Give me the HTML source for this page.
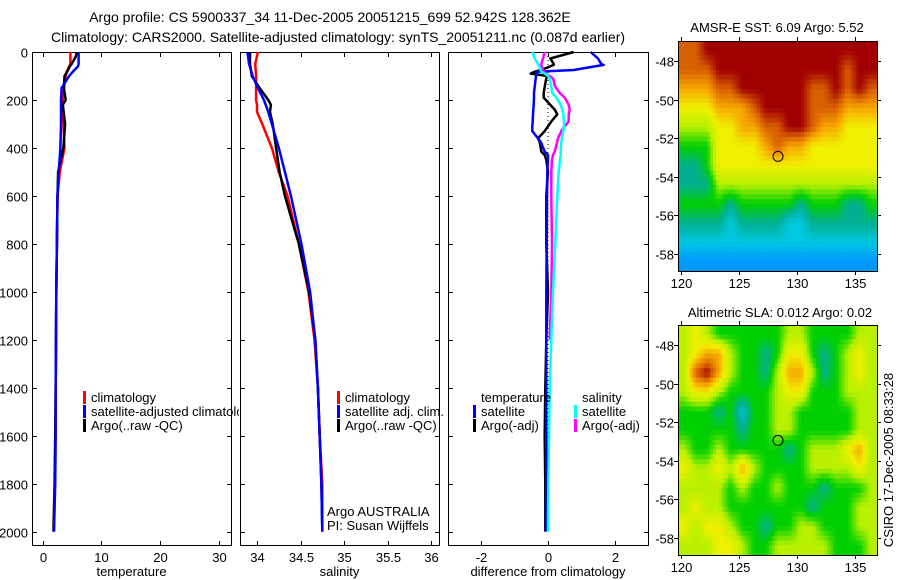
<!DOCTYPE html>
<html><head><meta charset="utf-8"><style>
body{margin:0;background:#fff;}
svg{display:block;font-family:"Liberation Sans",sans-serif;}
text{font-size:13px;fill:#000;}
</style></head><body>
<svg id="c" width="900" height="580" xmlns="http://www.w3.org/2000/svg">
<defs><clipPath id="p1clip"><rect x="32" y="380" width="207" height="60"/></clipPath></defs>
<text x="330" y="22" text-anchor="middle" style="font-size:14px">Argo profile: CS 5900337_34 11-Dec-2005 20051215_699 52.942S 128.362E</text>
<text x="338" y="42" text-anchor="middle" style="font-size:14px">Climatology: CARS2000. Satellite-adjusted climatology: synTS_20051211.nc (0.087d earlier)</text>
<text x="777" y="32" text-anchor="middle">AMSR-E SST: 6.09 Argo: 5.52</text>
<text x="780" y="317" text-anchor="middle">Altimetric SLA: 0.012 Argo: 0.02</text>
<text transform="translate(893,460) rotate(-90)" text-anchor="middle">CSIRO 17-Dec-2005 08:33:28</text>
<g id="g"></g>
</svg>
<script>
const depthTicks=[0,200,400,600,800,1000,1200,1400,1600,1800,2000];
const tTicks=[0,10,20,30];
const sTicks=[34,34.5,35,35.5,36];
const dTicks=[-2,0,2];
const lonTicks=[120,125,130,135];
const latTicks=[48,50,52,54,56,58];
// temperature profiles
const tDepth=[0,20,50,60,80,100,150,200,220,300,400,500,600,800,1000,1200,1400,1600,1800,2000];
const tArgo=[5.8,5.6,4.9,4.6,4.2,3.7,3.6,3.9,3.4,3.8,3.5,2.6,2.5,2.4,2.3,2.25,2.2,2.1,2.0,1.8];
const tSat=[6.1,6.1,6.1,6.0,5.2,4.5,3.2,3.1,3.1,3.1,3.0,2.7,2.5,2.4,2.3,2.25,2.2,2.2,2.1,1.9];
const tClim=[4.7,4.7,4.7,4.5,4.1,3.9,3.6,3.4,3.4,3.5,3.7,2.9,2.5,2.4,2.3,2.25,2.2,2.15,2.05,1.9];
// salinity profiles
const sDepth=[0,50,100,150,200,220,250,300,400,500,600,800,1000,1200,1400,1600,1800,2000];
const sArgo=[33.92,33.92,33.94,34.03,34.13,34.16,34.15,34.18,34.22,34.26,34.32,34.48,34.6,34.67,34.7,34.72,34.74,34.75];
const sSat=[33.89,33.91,33.95,34.01,34.08,34.1,34.13,34.17,34.25,34.32,34.39,34.51,34.61,34.67,34.7,34.72,34.74,34.75];
const sClim=[34.01,33.98,33.99,33.99,33.99,34.0,34.0,34.06,34.17,34.25,34.35,34.48,34.59,34.66,34.7,34.72,34.75,34.75];
// differences
const dfDepth=[0,27,50,54,75,82,90,100,110,145,170,190,220,240,260,290,310,330,360,375,415,430,450,500,600,800,1000,1200,1400,1600,1800,2000];
const dfTSat=[1.28,1.5,1.6,1.67,0.77,-0.32,-0.34,-0.36,-0.37,-0.4,-0.42,-0.42,-0.43,-0.44,-0.45,-0.46,-0.47,-0.47,-0.3,-0.22,-0.1,0,0,-0.02,-0.03,-0.04,-0.05,-0.05,-0.05,-0.05,-0.05,-0.06];
const dfTArgo=[0.77,0.07,0.17,0.17,-0.2,-0.4,-0.52,0,-0.05,-0.1,-0.13,-0.13,0.07,0.2,0.28,0.1,0,-0.1,-0.3,-0.25,-0.2,-0.1,-0.05,0,-0.05,-0.05,0,-0.05,-0.08,-0.1,-0.08,-0.08];
const dfSSat=[-0.47,-0.4,-0.3,-0.28,-0.22,-0.2,-0.1,0,0.05,0.1,0.13,0.25,0.38,0.43,0.46,0.48,0.48,0.46,0.42,0.4,0.38,0.38,0.36,0.32,0.28,0.22,0.15,0.1,0.05,0.03,0.01,0.0];
const dfSArgo=[-0.1,-0.15,-0.2,-0.2,-0.15,-0.12,-0.1,0.05,0.15,0.22,0.35,0.5,0.62,0.65,0.62,0.62,0.5,0.4,0.3,0.28,0.2,0.15,0.12,0.1,0.1,0.12,0.1,0.05,null,null,null,null];
// SST map grid (lat rows 47..59, lon cols), colour level 0-9
const sstGrid=["88999999999999999","88899999999999899","77788999999889898","66677789999888777","55566778899877666","44466667877666666","33466666666666666","33355555555555555","44443444443444334","33332333322333333","22222222222222222","11111111111111111"];
// SLA map grid
const slaGrid=["56544444455444455","56775443466434565","58975443577534565","56654444566444555","44434244554444455","44444344554444455","54454444434555675","65565754444555565","55554544544434445","56554444444344455","65665443445544455","55566544555554445"];
const NS="http://www.w3.org/2000/svg";
const G=document.getElementById('g');
function el(t,a,p){const e=document.createElementNS(NS,t);for(const k in a)e.setAttribute(k,a[k]);(p||G).appendChild(e);return e;}
const dY=d=>52+d*0.2398;
const panels=[
 {x0:32,x1:231,lo:-1.85,hi:32.1,ticks:tTicks,label:'temperature',name:'temperature'},
 {x0:240,x1:439,lo:33.805,hi:36.09,ticks:sTicks,label:'salinity',name:'salinity'},
 {x0:448,x1:648,lo:-3,hi:3,ticks:dTicks,label:'difference from climatology',name:'difference'}];
panels.forEach((p,i)=>{
 p.sx=v=>p.x0+(v-p.lo)/(p.hi-p.lo)*(p.x1-p.x0);
 const gp=el('g',{});
 
 
 el('rect',{x:p.x0+0.5,y:52.5,width:p.x1-p.x0,height:493,fill:'none',stroke:'#000'},gp);
 p.ticks.forEach(t=>{const x=Math.round(p.sx(t))+0.5;
  el('line',{x1:x,x2:x,y1:52,y2:57,stroke:'#000'},gp);
  el('line',{x1:x,x2:x,y1:541,y2:546,stroke:'#000'},gp);
  const tx=el('text',{x:x,y:562,'text-anchor':'middle'},gp);tx.textContent=t;});
 depthTicks.forEach(d=>{const y=Math.round(dY(d))+0.5;
  el('line',{x1:p.x0,x2:p.x0+5,y1:y,y2:y,stroke:'#000'},gp);
  el('line',{x1:p.x1-4,x2:p.x1+1,y1:y,y2:y,stroke:'#000'},gp);
  if(i==0){const tx=el('text',{x:28,y:y+5,'text-anchor':'end'},gp);tx.textContent=d;}});
 const lb=el('text',{x:(p.x0+p.x1)/2,y:576,'text-anchor':'middle'},gp);lb.textContent=p.label;
 
 
});
function line(p,depths,vals,col,name){
 let d='';let pen=false;
 vals.forEach((v,k)=>{if(v==null){pen=false;return;}d+=(pen?'L':'M')+p.sx(v).toFixed(1)+','+dY(depths[k]).toFixed(1);pen=true;});
 const e=el('path',{d:d,fill:'none',stroke:col,'stroke-width':2.5,'stroke-linejoin':'round'});
 
 
}
const [P1,P2,P3]=panels;
el('line',{x1:P3.sx(0),x2:P3.sx(0),y1:dY(0),y2:dY(2000),stroke:'#000','stroke-dasharray':'1,3'});
line(P1,tDepth,tClim,'#f00','temp-climatology-line');
line(P1,tDepth,tArgo,'#000','temp-argo-line');
line(P1,tDepth,tSat,'#00f','temp-satellite-line');
line(P2,sDepth,sClim,'#f00','sal-climatology-line');
line(P2,sDepth,sArgo,'#000','sal-argo-line');
line(P2,sDepth,sSat,'#00f','sal-satellite-line');
line(P3,dfDepth,dfTArgo,'#000','diff-temp-argo-line');
line(P3,dfDepth,dfTSat,'#00f','diff-temp-satellite-line');
line(P3,dfDepth,dfSArgo,'#f0f','diff-sal-argo-line');
line(P3,dfDepth,dfSSat,'#0ff','diff-sal-satellite-line');
function leg(x,y,col,txt,name,clip){
 const g=el('g',{});
 
 
 if(clip)g.setAttribute('clip-path','url(#p1clip)');
 if(col)el('rect',{x:x,y:y-11,width:3,height:13,fill:col},g);
 const t=el('text',{x:x+8,y:y},g);t.textContent=txt;
}
leg(83,402,'#f00','climatology','legend-entry-climatology');
leg(83,416,'#00f','satellite-adjusted climatology','legend-entry-satellite',true);
leg(83,430,'#000','Argo(..raw -QC)','legend-entry-argo');
leg(337,402,'#f00','climatology','legend-entry-climatology-2');
leg(337,416,'#00f','satellite adj. clim.','legend-entry-satellite-2');
leg(337,430,'#000','Argo(..raw -QC)','legend-entry-argo-2');
leg(473,402,null,'temperature','legend-heading-temperature');
leg(473,416,'#00f','satellite','legend-entry-temp-satellite');
leg(473,430,'#000','Argo(-adj)','legend-entry-temp-argo');
leg(574,402,null,'salinity','legend-heading-salinity');
leg(574,416,'#0ff','satellite','legend-entry-sal-satellite');
leg(574,430,'#f0f','Argo(-adj)','legend-entry-sal-argo');
leg(319,516,null,'Argo AUSTRALIA','float-owner');
leg(319,530,null,'PI: Susan Wijffels','float-pi');
// maps
const cmap=[[0,80,224],[0,152,255],[0,200,224],[0,176,144],[0,208,0],[184,240,0],[240,240,0],[248,168,0],[216,96,0],[160,0,0]];
function colr(v){v=Math.max(0,Math.min(9,v));const i=Math.min(8,Math.floor(v)),f=v-i;const a=cmap[i],b=cmap[i+1];
 return 'rgb('+a.map((c,k)=>Math.round(c+(b[k]-c)*f)).join(',')+')';}
function map(y0,grid,name){
 const x0=678,x1=877,y1=y0+230,S=4;
 const gm=el('g',{});
 
 
 const rows=grid.length,cols=grid[0].length;
 const val=(i,j)=>+grid[Math.max(0,Math.min(rows-1,i))][Math.max(0,Math.min(cols-1,j))];
 const R=rows*S,C=cols*S,cw=(x1-x0)/C,rh=(y1-y0)/R;
 for(let i=0;i<R;i++)for(let j=0;j<C;j++){
  const gi=(i+0.5)/S-0.5,gj=(j+0.5)/S-0.5,i0=Math.floor(gi),j0=Math.floor(gj),fi=gi-i0,fj=gj-j0;
  const v=val(i0,j0)*(1-fi)*(1-fj)+val(i0+1,j0)*fi*(1-fj)+val(i0,j0+1)*(1-fi)*fj+val(i0+1,j0+1)*fi*fj;
  const c=el('rect',{x:(x0+j*cw).toFixed(2),y:(y0+i*rh).toFixed(2),width:(cw+0.5).toFixed(2),height:(rh+0.5).toFixed(2),fill:colr(v)},gm);
  
  }
 el('rect',{x:x0+0.5,y:y0+0.5,width:x1-x0,height:y1-y0,fill:'none',stroke:'#000'},gm);
 const lx=v=>681+(v-120)*11.6, ly=v=>y0+20+(v-48)*19.3;
 lonTicks.forEach(v=>{const x=Math.round(lx(v))+0.5;
  el('line',{x1:x,x2:x,y1:y0-4,y2:y0,stroke:'#000'},gm);
  el('line',{x1:x,x2:x,y1:y1,y2:y1+4,stroke:'#000'},gm);
  const t=el('text',{x:x,y:y1+17,'text-anchor':'middle'},gm);t.textContent=v;});
 latTicks.forEach(v=>{const y=Math.round(ly(v))+0.5;
  el('line',{x1:x0-4,x2:x0,y1:y,y2:y,stroke:'#000'},gm);
  el('line',{x1:x1,x2:x1+4,y1:y,y2:y,stroke:'#000'},gm);
  const t=el('text',{x:674,y:y+5,'text-anchor':'end'},gm);t.textContent='-'+v;});
 const m=el('circle',{cx:lx(128.362),cy:ly(52.942),r:5,fill:'none',stroke:'#000'},gm);
 
 
}
map(41,sstGrid,'sst-map');
map(325,slaGrid,'sla-map');
</script>
</body></html>
